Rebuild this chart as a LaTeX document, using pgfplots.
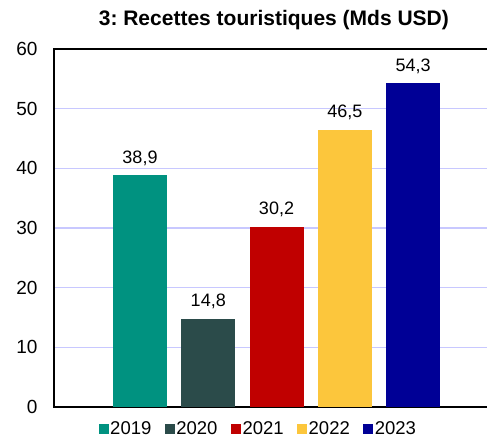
\documentclass[border=0pt]{standalone}
\usepackage{fontspec}
\setmainfont{Liberation Sans}
\usepackage{pgfplots}
\pgfplotsset{compat=1.18}
\definecolor{cA}{RGB}{0,146,128}
\definecolor{cB}{RGB}{43,75,74}
\definecolor{cC}{RGB}{192,0,0}
\definecolor{cD}{RGB}{252,198,60}
\definecolor{cE}{RGB}{0,0,150}
\definecolor{gridc}{RGB}{200,200,255}
\frenchspacing
\begin{document}
\begin{tikzpicture}
\useasboundingbox (-54pt,-32pt) rectangle (433pt,407pt);
\begin{axis}[
  at={(0,0)}, anchor=south west,
  scale only axis, width=438pt, height=358pt,
  xmin=-1.26, xmax=5.157, ymin=0, ymax=60,
  ytick={0,10,...,60}, xtick=\empty,
  ymajorgrids, grid style={color=gridc, line width=1.6pt},
  axis line style={line width=1.6pt, black},
  major tick length=0pt,
  /pgf/number format/assume math mode=true,
  yticklabel style={font=\fontsize{19}{19}\selectfont, xshift=-13pt},
  ybar=0pt, bar width=54pt, bar shift=0pt,
  nodes near coords,
  every node near coord/.append style={font=\fontsize{18}{18}\selectfont, yshift=6pt, text=black},
  nodes near coords style={/pgf/number format/.cd, use comma, fixed, fixed zerofill, precision=1, assume math mode=true},
  title={\textbf{3: Recettes touristiques (Mds USD)}},
  title style={font=\fontsize{21}{21}\selectfont, at={(0.502,1)}, anchor=south, yshift=10pt},
  legend columns=5,
  legend style={draw=none, fill=none, at={(0.466,-0.035)}, anchor=north, font=\fontsize{18.5}{18.5}\selectfont,
    nodes={inner xsep=1.5pt, inner ysep=2pt},
    /tikz/every even column/.append style={column sep=12pt}, inner sep=0pt},
  legend image code/.code={\fill[#1] (0pt,-5pt) rectangle (10pt,5pt);},
]
\addplot[fill=cA, draw=none] coordinates {(0,38.9)};
\addplot[fill=cB, draw=none] coordinates {(1,14.8)};
\addplot[fill=cC, draw=none] coordinates {(2,30.2)};
\addplot[fill=cD, draw=none] coordinates {(3,46.5)};
\addplot[fill=cE, draw=none] coordinates {(4,54.3)};
\legend{2019,2020,2021,2022,2023}
\end{axis}
\end{tikzpicture}
\end{document}
